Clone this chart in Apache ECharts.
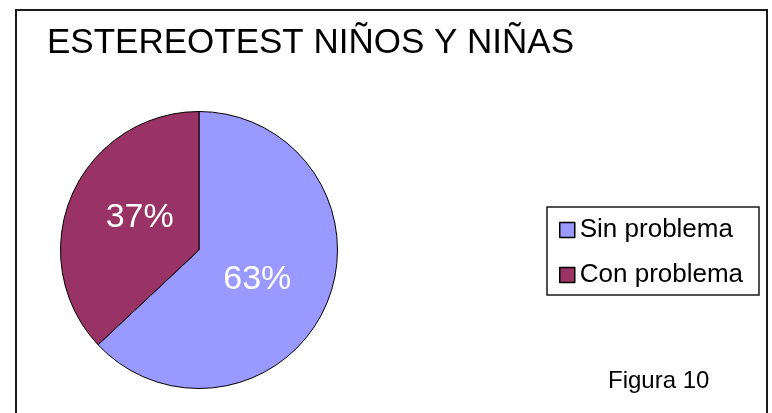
<!DOCTYPE html>
<html>
<head>
<meta charset="utf-8">
<script src="https://cdn.jsdelivr.net/npm/echarts@6/dist/echarts.min.js"></script>
<style>
html,body{margin:0;padding:0;background:#fff;}
#chart{width:772px;height:413px;}
</style>
</head>
<body>
<div id="chart"></div>
<script>
const titleText = 'ESTEREOTEST NIÑOS Y NIÑAS';
const footnote = 'Figura 10';
const categories = ['Sin problema', 'Con problema'];
const values = [63, 37];
const colors = ['#9999FF', '#993366'];

const FONT = '"Liberation Sans", Arial, sans-serif';
const chart = echarts.init(document.getElementById('chart'), null, {renderer: 'canvas'});

chart.setOption({
  backgroundColor: '#ffffff',
  animation: false,
  color: colors,
  title: {
    text: titleText,
    left: 42,
    top: 21,
    textStyle: {fontFamily: FONT, fontSize: 35, fontWeight: 'normal', color: '#000'}
  },
  legend: {
    orient: 'vertical',
    left: 559,
    top: 215,
    padding: 0,
    itemWidth: 15,
    itemHeight: 15,
    itemGap: 15,
    icon: 'rect',
    itemStyle: {borderColor: '#000', borderWidth: 1.5},
    textStyle: {fontFamily: FONT, fontSize: 26, color: '#000', lineHeight: 30, padding: [0, 0, 0, 0]},
    data: categories
  },
  graphic: [
    {type: 'rect', shape: {x: 16, y: 10, width: 751, height: 420}, style: {fill: 'none', stroke: '#1a1a1a', lineWidth: 2}, silent: true},
    {type: 'rect', shape: {x: 547, y: 207, width: 212, height: 88}, style: {fill: 'none', stroke: '#1a1a1a', lineWidth: 1.5}, silent: true},
    {type: 'text', left: 608, top: 369, style: {text: footnote, font: '24px ' + FONT, fill: '#000'}}
  ],
  series: [{
    type: 'pie',
    center: [199, 250],
    radius: 138.5,
    startAngle: 90,
    clockwise: true,
    avoidLabelOverlap: false,
    itemStyle: {borderColor: '#000', borderWidth: 1},
    label: {
      show: true,
      position: 'inside',
      formatter: '{c}%',
      fontFamily: FONT,
      fontSize: 34,
      color: '#fff'
    },
    labelLayout: function (params) {
      return params.dataIndex === 0 ? {dx: -8, dy: 1} : {dx: 7, dy: -4};
    },
    labelLine: {show: false},
    emphasis: {disabled: true},
    data: categories.map((name, i) => ({name: name, value: values[i]}))
  }]
});
</script>
</body>
</html>
